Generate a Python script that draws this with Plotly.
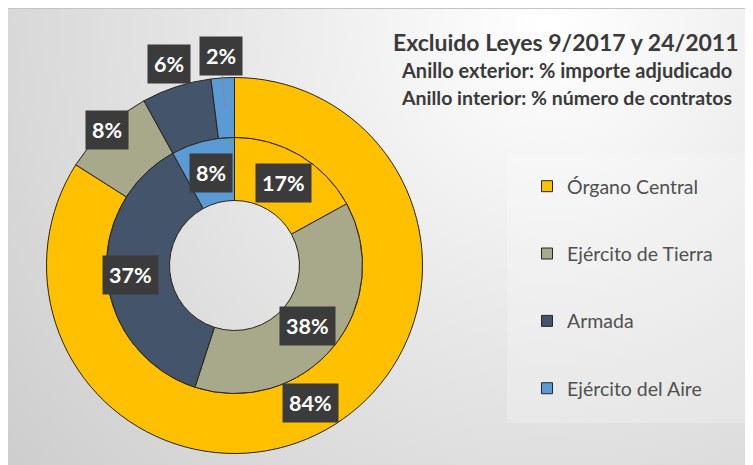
import math
import base64
import plotly.graph_objects as go

# ---------------- data ----------------
categories = ["Órgano Central", "Ejército de Tierra", "Armada", "Ejército del Aire"]
outer_pct = [84, 8, 6, 2]      # Anillo exterior: % importe adjudicado
inner_pct = [17, 38, 37, 8]    # Anillo interior: % número de contratos
title_lines = ["Excluido Leyes 9/2017 y 24/2011",
               "Anillo exterior: % importe adjudicado",
               "Anillo interior: % número de contratos"]

# ---------------- styling / geometry ----------------
colors = ["#FFC000", "#A8A98A", "#44546A", "#5B9BD5"]
W, H = 753, 465
OFF = 8                      # page body margin offset (screen px)
cx, cy = 234.5, 265.5        # screen px
R_out, R_mid, R_in = 188, 128, 65
outer_label_r = [157, 186, 212, 210]
inner_label_r = [96, 95, 104, 96]
FONT = "Lato"

def to_paper(px, py):
    return (px - OFF) / W, 1 - (py - OFF) / H

def dom(r):
    x0, y1 = to_paper(cx - r, cy - r)
    x1, y0 = to_paper(cx + r, cy + r)
    return dict(x=[x0, x1], y=[y0, y1])

fig = go.Figure()
fig.add_trace(go.Pie(labels=categories, values=outer_pct, sort=False,
                     direction="clockwise", rotation=0, hole=R_mid / R_out,
                     domain=dom(R_out), textinfo="none", hoverinfo="label+percent",
                     marker=dict(colors=colors, line=dict(color="#2a2418", width=1)),
                     showlegend=False))
fig.add_trace(go.Pie(labels=categories, values=inner_pct, sort=False,
                     direction="clockwise", rotation=0, hole=R_in / R_mid,
                     domain=dom(R_mid), textinfo="none", hoverinfo="label+percent",
                     marker=dict(colors=colors, line=dict(color="#2a2418", width=1)),
                     showlegend=False))

# legend entries
for cat, col in zip(categories, colors):
    fig.add_trace(go.Scatter(x=[None], y=[None], mode="markers", name=cat,
                             legendgroup=cat,
                             marker=dict(symbol="square", size=11, color=col,
                                         line=dict(color="#262626", width=1))))

annotations = []

def label_positions(vals, radii):
    total = sum(vals)
    cum = 0
    out = []
    for v, r in zip(vals, radii):
        mid = (cum + v / 2) / total * 360
        cum += v
        th = math.radians(mid)
        out.append((v, mid, cx + r * math.sin(th), cy - r * math.cos(th)))
    return out

lab_style = dict(font=dict(family=FONT, size=21.5, color="white"),
                 bgcolor="#3b3b3b", borderpad=6, xref="paper", yref="paper",
                 xanchor="center", yanchor="middle")

for v, mid, px, py in label_positions(outer_pct, outer_label_r):
    if v <= 2:
        th = math.radians(mid)
        ptx, pty = cx + 158 * math.sin(th), cy - 158 * math.cos(th)
        x, y = to_paper(ptx, pty)
        annotations.append(dict(text=f"<b>{v}%</b>", x=x, y=y, showarrow=True,
                                ax=px - ptx, ay=py - pty, arrowhead=0,
                                arrowwidth=1, arrowcolor="#8a8a8a", standoff=0,
                                **lab_style))
    else:
        x, y = to_paper(px, py)
        annotations.append(dict(text=f"<b>{v}%</b>", x=x, y=y, showarrow=False, **lab_style))

for v, mid, px, py in label_positions(inner_pct, inner_label_r):
    x, y = to_paper(px, py)
    annotations.append(dict(text=f"<b>{v}%</b>", x=x, y=y, showarrow=False, **lab_style))

# titles
title_specs = [(title_lines[0], 23, 42), (title_lines[1], 20, 70), (title_lines[2], 19.5, 97)]
for txt, sz, py in title_specs:
    x, y = to_paper(566, py)
    annotations.append(dict(text=f"<b>{txt}</b>", x=x, y=y, xref="paper", yref="paper",
                            xanchor="center", yanchor="middle", showarrow=False,
                            font=dict(family=FONT, size=sz, color="#3a3a3a")))

# background gradient as svg image (covers the whole figure)
svg = f'''<svg xmlns="http://www.w3.org/2000/svg" width="{W}" height="{H}" viewBox="0 0 {W} {H}">
<defs><radialGradient id="g" gradientUnits="userSpaceOnUse" cx="540" cy="15" r="700">
<stop offset="0" stop-color="#ffffff"/>
<stop offset="0.18" stop-color="#f6f6f6"/>
<stop offset="0.5" stop-color="#e5e5e5"/>
<stop offset="0.75" stop-color="#d9d9d9"/>
<stop offset="1" stop-color="#cdcdcd"/>
</radialGradient></defs>
<rect width="{W}" height="{H}" fill="url(#g)"/>
<line x1="0" y1="0.5" x2="{W}" y2="0.5" stroke="#c4c4c4" stroke-width="1"/>
</svg>'''
src = "data:image/svg+xml;base64," + base64.b64encode(svg.encode()).decode()

px0, py1 = to_paper(507, 153)
px1, py0 = to_paper(760, 423)
lx, ly = to_paper(527, 167)

fig.update_layout(
    width=W, height=H, margin=dict(l=0, r=0, t=0, b=0),
    paper_bgcolor="#e0e0e0", plot_bgcolor="rgba(0,0,0,0)",
    xaxis=dict(visible=False), yaxis=dict(visible=False),
    images=[dict(source=src, xref="paper", yref="paper", x=0, y=1,
                 sizex=1, sizey=1, xanchor="left", yanchor="top",
                 sizing="stretch", layer="below")],
    shapes=[dict(type="rect", xref="paper", yref="paper",
                 x0=px0, x1=px1, y0=py0, y1=py1,
                 fillcolor="rgba(255,255,255,0.22)", line=dict(width=0), layer="below")],
    legend=dict(x=lx, y=ly, xanchor="left", yanchor="top",
                bgcolor="rgba(0,0,0,0)", tracegroupgap=39, itemsizing="trace",
                font=dict(family=FONT, size=19.5, color="#505050")),
    annotations=annotations,
)

fig.write_html("out.html")
